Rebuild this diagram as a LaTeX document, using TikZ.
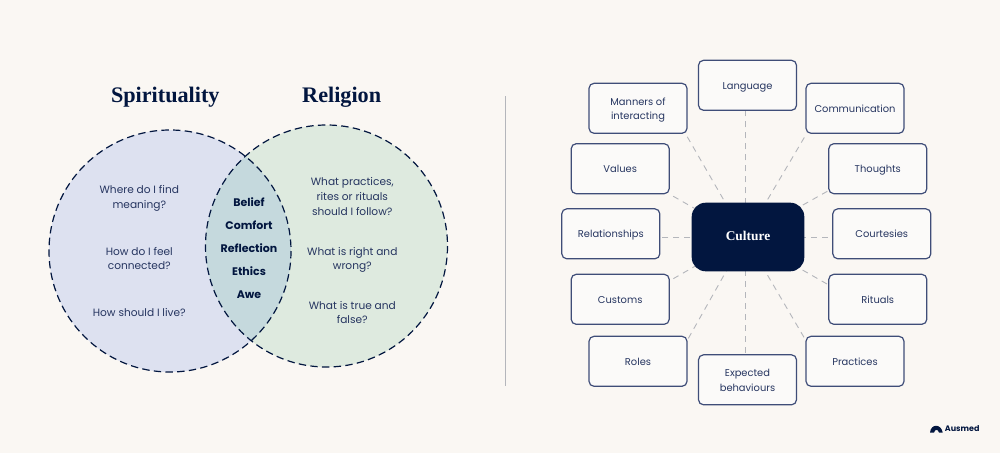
\documentclass[tikz,border=0pt]{standalone}
\usepackage{fontspec}
\setmainfont{Poppins}
\newfontfamily\headfont{Liberation Serif}
\usetikzlibrary{backgrounds}
\definecolor{bgc}{HTML}{FAF7F3}
\definecolor{navy}{HTML}{02163F}
\definecolor{inkc}{HTML}{263560}
\definecolor{leftc}{HTML}{DDE1F0}
\definecolor{rightc}{HTML}{DEEADF}
\definecolor{midc}{HTML}{C5D9DD}
\definecolor{spokec}{HTML}{B4B6BB}
\definecolor{boxc}{HTML}{FBFAF9}
\definecolor{boxl}{HTML}{3F4D78}
\newcommand{\cardline}{\rule[-2.96pt]{0pt}{14.2pt}}
\newcommand{\bodyline}{\rule[-3.2pt]{0pt}{14.7pt}}
\tikzset{
 x=1pt,y=-1pt,
 ring/.style={draw=navy,line width=1.2pt,dash pattern=on 7.4pt off 4.3pt},
 body/.style={text=inkc,font=\fontsize{10.6}{14.7}\selectfont,align=center,inner sep=0pt},
 core/.style={text=navy,font=\fontsize{11}{14.7}\selectfont\bfseries,inner sep=0pt},
 head/.style={text=navy,font=\fontsize{22.2}{26}\headfont\bfseries,inner sep=0pt},
 card/.style={draw=boxl,fill=boxc,line width=1.2pt,rounded corners=5pt,minimum width=98pt,minimum height=50pt,inner sep=0pt,text=inkc,align=center,font=\fontsize{9.9}{14.2}\selectfont},
 hubbox/.style={fill=navy,rounded corners=14pt,minimum width=112.6pt,minimum height=68.6pt,inner sep=0pt,text=white,font=\fontsize{13.4}{14}\headfont\bfseries},
 spoke/.style={draw=spokec,line width=0.9pt,dash pattern=on 6pt off 5pt},
}
\begin{document}
\begin{tikzpicture}
\useasboundingbox (0,0) rectangle (1000,453);
% venn
\fill[leftc] (170,251) circle[radius=121];
\fill[rightc] (326.5,246) circle[radius=121];
\begin{scope}
\clip (170,251) circle[radius=121];
\fill[midc] (326.5,246) circle[radius=121];
\end{scope}
\draw[ring] (170,251) circle[radius=121];
\draw[ring] (326.5,246) circle[radius=121];
\node[head] (h1) at (165.3,97) {Spirituality};
\node[head] (h2) at (341.7,97) {Religion};
\node[body] (l1) at (139.3,196.8) {\bodyline Where do I find\\\bodyline meaning?};
\node[body] (l2) at (139.3,258.2) {\bodyline How do I feel\\\bodyline connected?};
\node[body] (l3) at (139.3,312.2) {\bodyline How should I live?};
\node[core] (c1) at (249,202.5) {\bodyline Belief};
\node[core] (c2) at (249,225.5) {\bodyline Comfort};
\node[core] (c3) at (249,248.5) {\bodyline Reflection};
\node[core] (c4) at (249,271.5) {\bodyline Ethics};
\node[core] (c5) at (249,294.5) {\bodyline Awe};
\node[body] (r1) at (352.3,196.3) {\bodyline What practices,\\\bodyline rites or rituals\\\bodyline should I follow?};
\node[body] (r2) at (352.3,258.2) {\bodyline What is right and\\\bodyline wrong?};
\node[body] (r3) at (352.3,312.4) {\bodyline What is true and\\\bodyline false?};
\coordinate (div1) at (505.5,96);
\coordinate (div2) at (505.5,386);
\draw[draw=spokec,line width=0.9pt] (div1) -- (div2);
% culture
\coordinate (hub) at (745.3,237.3);
\node[hubbox] (culture) at (748,237) {\raisebox{1.5pt}{Culture}};
\node[card] (language) at (747.5,85.3) {\cardline Language};
\node[card] (manners) at (638,108.3) {\cardline Manners of\\\cardline interacting};
\node[card] (comm) at (855,108.3) {\cardline Communication};
\node[card] (values) at (620.2,168.7) {\cardline Values};
\node[card] (thoughts) at (877.8,168.7) {\cardline Thoughts};
\node[card] (rel) at (610.8,233.8) {\cardline Relationships};
\node[card] (court) at (881.8,233.8) {\cardline Courtesies};
\node[card] (customs) at (620.2,299.3) {\cardline Customs};
\node[card] (rituals) at (877.8,299.3) {\cardline Rituals};
\node[card] (roles) at (638,361.3) {\cardline Roles};
\node[card] (practices) at (855,361.3) {\cardline Practices};
\node[card] (expected) at (747.5,379.8) {\cardline Expected\\\cardline behaviours};
\begin{pgfonlayer}{background}
\fill[bgc] (0,0) rectangle (1000,453);
\draw[spoke] (hub) -- (hub |- language.south);
\draw[spoke] (hub) -- ([xshift=-2pt]manners.south east);
\draw[spoke] (hub) -- ([xshift=1pt]comm.south west);
\draw[spoke] (hub) -- (values.south east);
\draw[spoke] (hub) -- ([yshift=3.5pt]thoughts.south west);
\draw[spoke] (hub) -- (hub -| rel.east);
\draw[spoke] (hub) -- (hub -| court.west);
\draw[spoke] (hub) -- ([yshift=-7pt]customs.north east);
\draw[spoke] (hub) -- ([yshift=-11pt]rituals.north west);
\draw[spoke] (hub) -- ([yshift=-4pt]roles.north east);
\draw[spoke] (hub) -- ([yshift=-4pt]practices.north west);
\draw[spoke] (hub) -- (hub |- expected.north);
\end{pgfonlayer}
% logo
\fill[navy] (930,432.5) .. controls (931,423.5) and (941,423.5) .. (942.7,432.5) -- (939,432.5) .. controls (938,429) and (935,429) .. (934,432.5) -- cycle;
\node[text=navy,font=\fontsize{8}{10}\selectfont\bfseries,inner sep=0pt,anchor=west] (logo) at (944.7,429) {Ausmed};
\end{tikzpicture}
\end{document}
